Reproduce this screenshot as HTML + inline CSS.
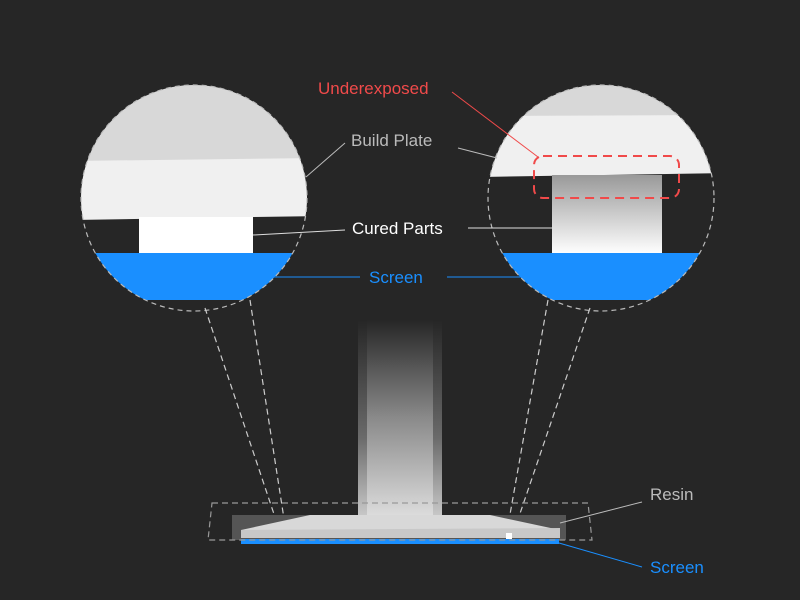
<!DOCTYPE html>
<html><head><style>
html,body{margin:0;padding:0;background:#262626;}
svg{display:block;}
text{font-family:"Liberation Sans",sans-serif;font-size:17px;}
</style></head><body>
<svg width="800" height="600" viewBox="0 0 800 600" xmlns="http://www.w3.org/2000/svg">
<defs>
<clipPath id="cl"><circle cx="194" cy="198" r="113"/></clipPath>
<clipPath id="cr"><circle cx="601" cy="198" r="113"/></clipPath>
<linearGradient id="pg" x1="0" y1="0" x2="0" y2="1">
<stop offset="0" stop-color="#262626"/><stop offset="0.5" stop-color="#8a8a8a"/><stop offset="1" stop-color="#dcdcdc"/></linearGradient>
<linearGradient id="pg2" x1="0" y1="0" x2="0" y2="1">
<stop offset="0" stop-color="#262626"/><stop offset="0.6" stop-color="#6a6a6a"/><stop offset="1" stop-color="#c8c8c8"/></linearGradient>
<linearGradient id="cg" x1="0" y1="0" x2="0" y2="1">
<stop offset="0" stop-color="#999"/><stop offset="1" stop-color="#fff"/></linearGradient>
</defs>
<rect width="800" height="600" fill="#262626"/>
<!-- left circle -->
<g clip-path="url(#cl)">
<rect x="70" y="80" width="250" height="82" fill="#d8d8d8"/>
<polygon points="70,161 320,158 320,216 70,220" fill="#f0f0f0"/>
<rect x="139" y="217" width="114" height="37" fill="#fff"/>
<rect x="70" y="253" width="250" height="47" fill="#1a8fff"/>
</g>
<circle cx="194" cy="198" r="113" fill="none" stroke="#bbb" stroke-dasharray="5,4" stroke-width="1.2"/>
<!-- right circle -->
<g clip-path="url(#cr)">
<rect x="480" y="80" width="250" height="37" fill="#d8d8d8"/>
<polygon points="480,116 730,115 730,173 480,177" fill="#f0f0f0"/>
<rect x="552" y="175" width="110" height="79" fill="url(#cg)"/>
<rect x="480" y="253" width="250" height="47" fill="#1a8fff"/>
</g>
<circle cx="601" cy="198" r="113" fill="none" stroke="#bbb" stroke-dasharray="5,4" stroke-width="1.2"/>
<rect x="534" y="156" width="145" height="42" rx="9" fill="none" stroke="#f04a4a" stroke-width="2" stroke-dasharray="9,6"/>
<!-- dashed zoom lines -->
<g stroke="#ccc" stroke-dasharray="6,4" stroke-width="1.2">
<line x1="205" y1="308" x2="282" y2="538"/>
<line x1="250" y1="300" x2="287" y2="538"/>
<line x1="548" y1="300" x2="506" y2="537"/>
<line x1="590" y1="308" x2="512" y2="537"/>
</g>
<!-- pillar -->
<rect x="358" y="320" width="84" height="196" fill="url(#pg2)"/>
<rect x="367" y="320" width="66" height="196" fill="url(#pg)"/>
<!-- resin / base -->
<polygon points="232,515 566,515 566,540 232,540" fill="#555"/>
<polygon points="310,515 490,515 560,530 560,538 241,538 241,530" fill="#d8d8d8"/>
<polygon points="241,530 560,528 560,538 241,538" fill="#c8c8c8"/>
<rect x="241" y="539" width="318" height="5" fill="#1a8fff"/>
<rect x="506" y="533" width="6" height="6" fill="#fff"/>
<path d="M 212 503 L 588 503 L 592 540 L 208 540 Z" fill="none" stroke="#999" stroke-dasharray="6,4" stroke-width="1.2"/>
<!-- leader lines -->
<line x1="306" y1="177" x2="345" y2="143" stroke="#bbb" stroke-width="1"/>
<line x1="458" y1="148" x2="497" y2="158" stroke="#bbb" stroke-width="1"/>
<line x1="253" y1="235" x2="345" y2="230" stroke="#ddd" stroke-width="1"/>
<line x1="468" y1="228" x2="552" y2="228" stroke="#ddd" stroke-width="1"/>
<line x1="270" y1="277" x2="360" y2="277" stroke="#1a8fff" stroke-width="1"/>
<line x1="447" y1="277" x2="524" y2="277" stroke="#1a8fff" stroke-width="1"/>
<line x1="452" y1="92" x2="538" y2="157" stroke="#f04a4a" stroke-width="1"/>
<line x1="560" y1="523" x2="642" y2="502" stroke="#bbb" stroke-width="1"/>
<line x1="559" y1="543" x2="642" y2="567" stroke="#1a8fff" stroke-width="1"/>
<!-- labels -->
<text x="318" y="94" fill="#f04a4a">Underexposed</text>
<text x="351" y="146" fill="#bbb">Build Plate</text>
<text x="352" y="234" fill="#fff">Cured Parts</text>
<text x="369" y="283" fill="#1a8fff">Screen</text>
<text x="650" y="500" fill="#bbb">Resin</text>
<text x="650" y="573" fill="#1a8fff">Screen</text>
</svg>
</body></html>
